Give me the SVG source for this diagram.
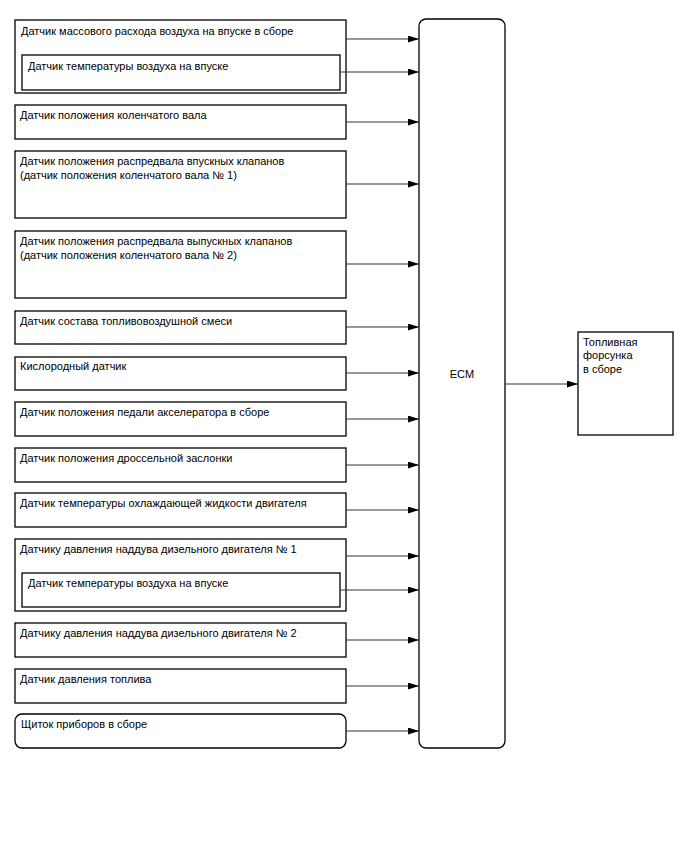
<svg xmlns="http://www.w3.org/2000/svg" width="688" height="852" viewBox="0 0 688 852">
<style>
.box{fill:#fff;stroke:#000;stroke-width:1.3}
.t{font-family:"Liberation Sans",Arial,sans-serif;font-size:11px;fill:#000}
.c{stroke:#333;stroke-width:1;fill:none;marker-end:url(#ah)}
</style>
<defs>
<marker id="ah" viewBox="0 0 11 7" refX="11" refY="3.5" markerWidth="11" markerHeight="7" markerUnits="userSpaceOnUse" orient="auto">
<path d="M0,0 L11,3.5 L0,7 Z" fill="#000"/>
</marker>
</defs>
<rect width="688" height="852" fill="#fff"/>
<g id="n1"><rect class="box" x="15" y="20" width="331" height="73"/><text class="t" x="21" y="35">Датчик массового расхода воздуха на впуске в сборе</text></g>
<g id="n1b"><rect class="box" x="22" y="55" width="318" height="35"/><text class="t" x="28" y="70">Датчик температуры воздуха на впуске</text></g>
<g id="n2"><rect class="box" x="15" y="105" width="331" height="34"/><text class="t" x="20" y="119">Датчик положения коленчатого вала</text></g>
<g id="n3"><rect class="box" x="15" y="151" width="331" height="67"/><text class="t" x="20" y="165">Датчик положения распредвала впускных клапанов</text><text class="t" x="20" y="179">(датчик положения коленчатого вала № 1)</text></g>
<g id="n4"><rect class="box" x="15" y="231" width="331" height="67"/><text class="t" x="20" y="245">Датчик положения распредвала выпускных клапанов</text><text class="t" x="20" y="259">(датчик положения коленчатого вала № 2)</text></g>
<g id="n5"><rect class="box" x="15" y="311" width="331" height="33"/><text class="t" x="20" y="325">Датчик состава топливовоздушной смеси</text></g>
<g id="n6"><rect class="box" x="15" y="357" width="331" height="33"/><text class="t" x="20" y="370">Кислородный датчик</text></g>
<g id="n7"><rect class="box" x="15" y="402" width="331" height="34"/><text class="t" x="20" y="416">Датчик положения педали акселератора в сборе</text></g>
<g id="n8"><rect class="box" x="15" y="448" width="331" height="34"/><text class="t" x="20" y="462">Датчик положения дроссельной заслонки</text></g>
<g id="n9"><rect class="box" x="15" y="493" width="331" height="34"/><text class="t" x="20" y="507">Датчик температуры охлаждающей жидкости двигателя</text></g>
<g id="n10"><rect class="box" x="15" y="539" width="331" height="72"/><text class="t" x="20" y="553">Датчику давления наддува дизельного двигателя № 1</text></g>
<g id="n10b"><rect class="box" x="22" y="573" width="318" height="34"/><text class="t" x="28" y="587">Датчик температуры воздуха на впуске</text></g>
<g id="n11"><rect class="box" x="15" y="623" width="331" height="34"/><text class="t" x="20" y="637">Датчику давления наддува дизельного двигателя № 2</text></g>
<g id="n12"><rect class="box" x="15" y="669" width="331" height="34"/><text class="t" x="20" y="683">Датчик давления топлива</text></g>
<g id="n13"><rect class="box" x="15" y="714" width="331" height="34" rx="7"/><text class="t" x="21" y="728">Щиток приборов в сборе</text></g>
<g id="ecm"><rect class="box" x="419" y="19" width="86" height="729" rx="7"/><text class="t" x="462" y="378" text-anchor="middle">ECM</text></g>
<g id="inj"><rect class="box" x="578" y="332" width="95" height="103"/><text class="t" x="583" y="346">Топливная</text><text class="t" x="583" y="359">форсунка</text><text class="t" x="583" y="373">в сборе</text></g>
<g id="connectors">
<line class="c" x1="346" y1="39" x2="419" y2="39"/>
<line class="c" x1="340" y1="72" x2="419" y2="72"/>
<line class="c" x1="346" y1="122" x2="419" y2="122"/>
<line class="c" x1="346" y1="184" x2="419" y2="184"/>
<line class="c" x1="346" y1="264" x2="419" y2="264"/>
<line class="c" x1="346" y1="327" x2="419" y2="327"/>
<line class="c" x1="346" y1="373" x2="419" y2="373"/>
<line class="c" x1="346" y1="419" x2="419" y2="419"/>
<line class="c" x1="346" y1="465" x2="419" y2="465"/>
<line class="c" x1="346" y1="510" x2="419" y2="510"/>
<line class="c" x1="346" y1="556" x2="419" y2="556"/>
<line class="c" x1="340" y1="590" x2="419" y2="590"/>
<line class="c" x1="346" y1="640" x2="419" y2="640"/>
<line class="c" x1="346" y1="686" x2="419" y2="686"/>
<line class="c" x1="346" y1="731" x2="419" y2="731"/>
<line class="c" x1="505" y1="384" x2="578" y2="384"/>
</g>
</svg>
